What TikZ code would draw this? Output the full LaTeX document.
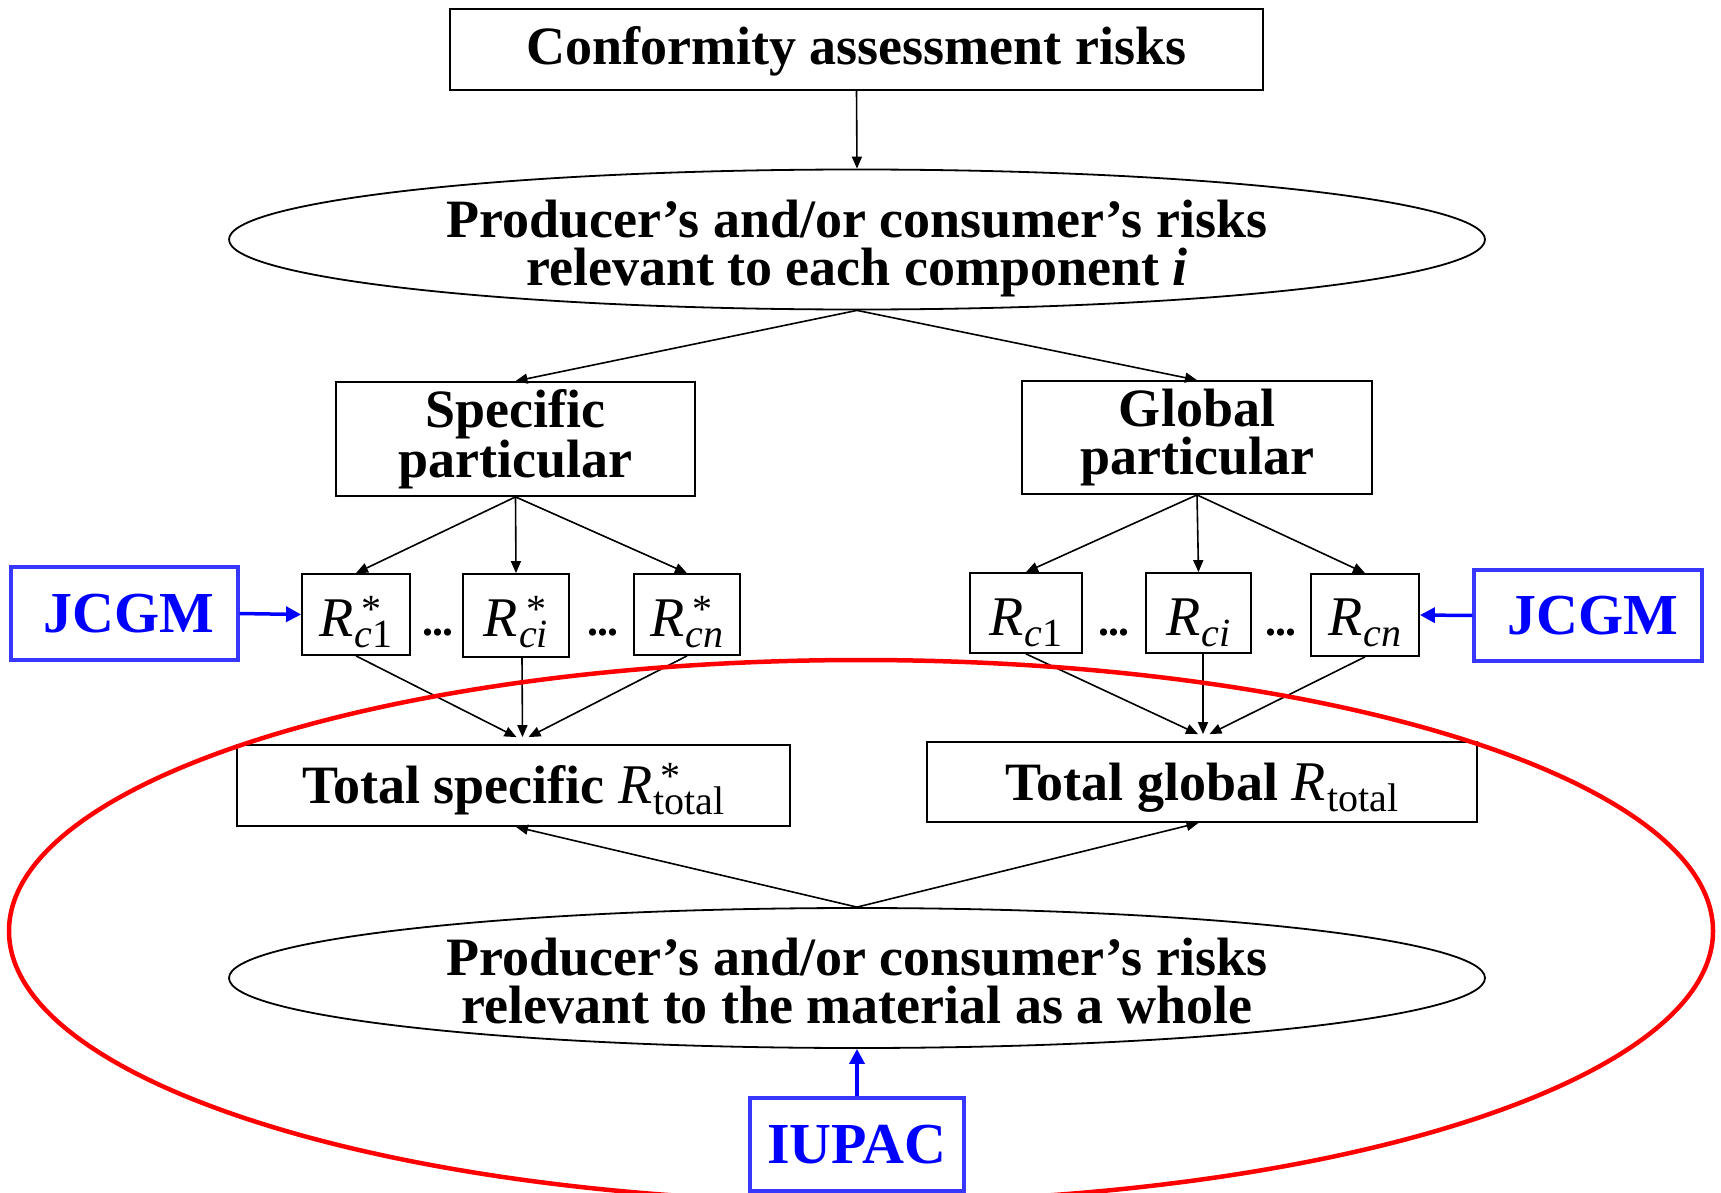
\documentclass[tikz,border=0pt]{standalone}
\usepackage{fontspec}
\setmainfont{Liberation Serif}
\usetikzlibrary{shapes.geometric,arrows.meta}

\definecolor{orgblue}{RGB}{0,0,255}
\definecolor{orgframe}{RGB}{55,55,255}
\definecolor{scopered}{RGB}{255,0,0}

\newcommand\bigtext{\fontsize{54}{48}\selectfont\bfseries}
\newcommand\orgtext{\fontsize{58}{58}\selectfont\bfseries}
\newcommand\subsize{\fontsize{40}{40}\selectfont\mdseries\upshape}
% risk symbol: R with an optional superscript (#1) and a subscript (#2)
\newcommand\Rsym[2]{{\fontsize{56}{56}\selectfont\mdseries\itshape R}\kern1pt%
  \rlap{\kern7pt\raisebox{14pt}{\subsize #1}}\raisebox{-11pt}{\subsize #2}}
\newcommand\ci[1]{{\itshape #1}}
\newcommand\dotrow{.\kern-1pt.\kern-1pt.}

\begin{document}
\begin{tikzpicture}[x=1pt,y=-1pt,
  frame/.style={draw, line width=1.8pt, inner sep=0pt},
  oval/.style={draw, ellipse, line width=1.8pt, inner sep=0pt, minimum width=1256pt, minimum height=140pt},
  txt/.style={inner sep=0pt, align=center, font=\bigtext},
  sym/.style={inner sep=0pt, anchor=base},
  dots/.style={inner sep=0pt, anchor=base, font=\fontsize{44}{44}\selectfont\bfseries},
  orgbox/.style={draw=orgframe, line width=3.2pt, inner sep=0pt, text=orgblue, font=\orgtext},
  link/.style={line width=1.6pt, -{Triangle[length=12pt,width=10pt]}},
  orglink/.style={draw=orgblue, line width=3.5pt, -{Triangle[length=15pt,width=15pt]}},
  scope/.style={draw=scopered, line width=4.5pt}
]
\clip (0,0) rectangle (1721,1193);
\fill[white] (0,0) rectangle (1721,1193);

% top level
\node[frame, minimum width=813pt, minimum height=81pt] (top) at (856.5,49.5) {};
\node[txt, anchor=base] (toptext) at (856.5,65) {Conformity assessment risks};

\node[oval] (comp) at (857,239.5) {};
\node[txt] (comptext) at (857,249) {Producer’s and/or consumer’s risks\\relevant to each component \textit{i}};

% two branches
\node[frame, minimum width=359pt, minimum height=114pt] (spec) at (515.5,439) {};
\node[txt] (spectext) at (515.5,439) {Specific\\particular};
\node[frame, minimum width=350pt, minimum height=113pt] (glob) at (1197,437.5) {};
\node[txt] (globtext) at (1197,437.5) {Global\\particular};

% component risks, specific branch
\node[frame, minimum width=108pt, minimum height=81pt] (s1) at (356,614.5) {};
\node[frame, minimum width=106pt, minimum height=83pt] (si) at (516,615.5) {};
\node[frame, minimum width=106pt, minimum height=81pt] (sn) at (687,614.5) {};
\node[sym] (s1text) at (356,636) {\Rsym{*}{\ci{c}1}};
\node[sym] (sitext) at (516,636) {\Rsym{*}{\ci{ci}}};
\node[sym] (sntext) at (687,636) {\Rsym{*}{\ci{cn}}};
\node[dots] (sd1) at (438,635) {\dotrow};
\node[dots] (sd2) at (603,635) {\dotrow};

% component risks, global branch
\node[frame, minimum width=112pt, minimum height=80pt] (g1) at (1026,613) {};
\node[frame, minimum width=105pt, minimum height=80pt] (gi) at (1198.5,613) {};
\node[frame, minimum width=108pt, minimum height=82pt] (gn) at (1365,615) {};
\node[sym] (g1text) at (1026,635) {\Rsym{}{\ci{c}1}};
\node[sym] (gitext) at (1198.5,635) {\Rsym{}{\ci{ci}}};
\node[sym] (gntext) at (1365,635) {\Rsym{}{\ci{cn}}};
\node[dots] (gd1) at (1114,635) {\dotrow};
\node[dots] (gd2) at (1281,635) {\dotrow};

% totals
\node[frame, minimum width=553pt, minimum height=81pt] (tspec) at (513.5,785.5) {};
\node[txt, anchor=base] (tspectext) at (513.5,803) {Total specific \Rsym{*}{total}};
\node[frame, minimum width=550pt, minimum height=80pt] (tglob) at (1202,782) {};
\node[txt, anchor=base] (tglobtext) at (1202,800) {Total global \Rsym{}{total}};

% material as a whole
\node[oval] (mat) at (857,978) {};
\node[txt] (mattext) at (857,981) {Producer’s and/or consumer’s risks\\relevant to the material as a whole};

% organisations
\node[orgbox, minimum width=227pt, minimum height=93pt] (jl) at (124.5,613.5) {\hspace*{9pt}JCGM};
\node[orgbox, minimum width=228pt, minimum height=91pt] (jr) at (1588,615.5) {\hspace*{9pt}JCGM};
\node[orgbox, minimum width=214pt, minimum height=93pt] (iu) at (857,1144.5) {IUPAC};

% connectors
\draw[link] (top.south) -- (comp.north);
\draw[link] (comp.south) -- (spec.north);
\draw[link] (comp.south) -- (glob.north);

\draw[link] (spec.south) -- (s1.north);
\draw[link] (spec.south) -- (si.north);
\draw[link] (spec.south) -- (sn.north);
\draw[link] (glob.south) -- (g1.north);
\draw[link] (glob.south) -- (gi.north);
\draw[link] (glob.south) -- (gn.north);

\draw[link] (s1.south) -- ([xshift=3pt,yshift=7pt]tspec.north);
\draw[link] ([xshift=6pt]si.south) -- ([xshift=9pt,yshift=7pt]tspec.north);
\draw[link] (sn.south) -- ([xshift=15pt,yshift=7pt]tspec.north);
\draw[link] (g1.south) -- ([xshift=-4pt,yshift=7pt]tglob.north);
\draw[link] ([xshift=4.5pt]gi.south) -- ([xshift=1pt,yshift=7pt]tglob.north);
\draw[link] (gn.south) -- ([xshift=7.5pt,yshift=7pt]tglob.north);

\draw[link] (mat.north) -- ([xshift=2.5pt]tspec.south);
\draw[link] (mat.north) -- ([xshift=-3.5pt]tglob.south);

\draw[orglink] (jl.east) -- (s1.west);
\draw[orglink] (jr.west) -- (gn.east);
\draw[orglink] (iu.north) -- (mat.south);

% scope of the material-level risks
\draw[scope] (861,931) ellipse [x radius=852, y radius=271];
\end{tikzpicture}
\end{document}
